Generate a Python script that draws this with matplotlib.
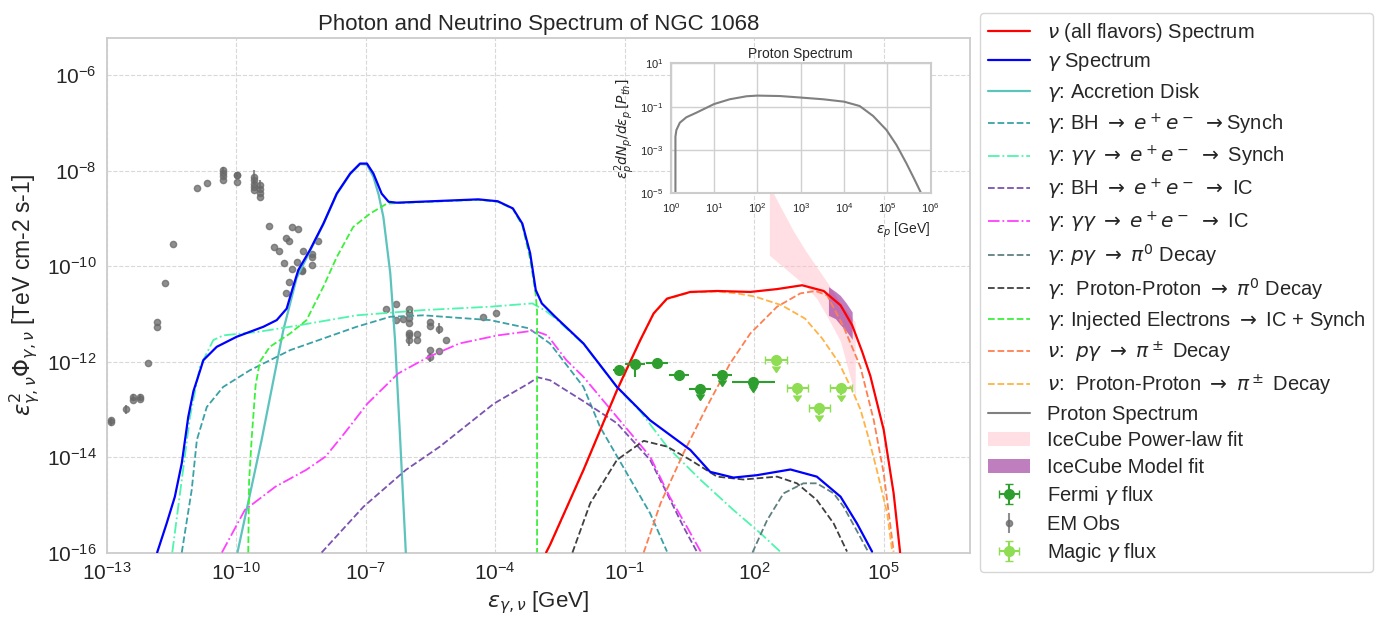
import matplotlib
matplotlib.use("Agg")
import matplotlib.pyplot as plt
import numpy as np
import seaborn as sns
from matplotlib.patches import Patch
from matplotlib.ticker import NullLocator

# Values below.
# Energies are log10(E / GeV), fluxes log10(E^2 Phi / TeV cm-2 s-1).

nu_total_loge = [-2.82, -2.73, -1.955, -1.18, -0.64, -0.33, -0.02, 0.52, 1.14, 1.91,
                 2.53, 3.11, 3.61, 4.0, 4.27, 4.50, 4.69, 5.0, 5.23, 5.38]
nu_total_logf = [-16.0, -15.84, -14.27, -12.60, -11.55, -10.99, -10.68, -10.54, -10.52, -10.54,
                 -10.48, -10.40, -10.52, -10.82, -11.24, -11.79, -12.30, -13.43, -14.76, -16.0]

gamma_total_loge = [-11.83, -11.61, -11.42, -11.26, -11.11, -10.99, -10.84, -10.76, -10.45, -9.99,
                    -9.37, -9.06, -8.83, -8.68, -8.56, -8.29, -7.98, -7.67, -7.36, -7.13,
                    -6.97, -6.82, -6.63, -6.47, -6.28, -5.20, -4.39, -3.94, -3.59, -3.37,
                    -3.19, -3.06, -2.92, -2.61, -1.955, -1.18, -0.41, 0.52, 0.98, 1.52,
                    2.06, 2.84, 3.45, 4.0, 4.38, 4.73]
gamma_total_logf = [-16.0, -15.39, -14.83, -14.13, -13.16, -12.62, -12.20, -11.97, -11.69, -11.48,
                    -11.27, -11.13, -10.89, -10.43, -10.08, -9.66, -9.11, -8.48, -8.06, -7.85,
                    -7.85, -8.06, -8.48, -8.65, -8.67, -8.63, -8.60, -8.64, -8.79, -9.11,
                    -9.73, -10.50, -10.78, -11.06, -11.62, -12.53, -13.23, -13.85, -14.31, -14.43,
                    -14.38, -14.26, -14.41, -14.83, -15.39, -15.98]

disk_loge = [-9.97, -9.41, -8.91, -8.60, -8.30, -7.98, -7.67, -7.36, -7.13, -6.97,
             -6.82, -6.70, -6.59, -6.43, -6.32, -6.20, -6.07]
disk_logf = [-16.0, -13.64, -11.35, -10.25, -9.70, -9.12, -8.49, -8.07, -7.86, -7.87,
             -8.13, -8.50, -8.97, -10.15, -11.55, -13.64, -16.0]

bh_synch_loge = [-11.26, -11.03, -10.91, -10.68, -10.30, -9.68, -8.75, -7.21, -6.43, -5.66,
                 -4.12, -3.23, -2.73, -1.955, -1.57, -0.95, -0.41, -0.02]
bh_synch_logf = [-16.0, -14.69, -13.64, -12.95, -12.53, -12.18, -11.76, -11.27, -11.06, -11.03,
                 -11.13, -11.30, -11.62, -12.53, -13.37, -14.34, -15.18, -15.98]

gg_synch_loge = [-11.48, -11.07, -10.84, -10.53, -10.30, -9.52, -8.75, -7.21, -5.66, -4.12,
                 -3.14, -2.84, -2.61, -1.955, -1.18, -0.64, -0.02, 0.76, 1.52, 2.15, 2.60]
gg_synch_logf = [-16.0, -13.16, -12.11, -11.55, -11.45, -11.38, -11.27, -11.03, -10.92, -10.85,
                 -10.78, -10.93, -11.09, -11.63, -12.54, -13.04, -13.78, -14.48, -15.11, -15.60, -15.98]

bh_ic_loge = [-8.02, -7.05, -6.07, -5.28, -4.03, -3.23, -3.01, -2.73, -1.955, -1.18,
              -0.41, -0.02, 0.36, 0.67]
bh_ic_logf = [-16.0, -15.04, -14.27, -13.78, -12.88, -12.46, -12.33, -12.39, -12.83, -13.29,
              -14.06, -14.76, -15.46, -15.98]

gg_ic_loge = [-10.33, -9.80, -9.09, -8.38, -7.93, -7.49, -6.96, -6.25, -5.54, -4.83,
              -3.94, -3.10, -2.79, -2.35, -1.955, -1.18, -0.41, 0.04, 0.44, 0.76]
gg_ic_logf = [-16.0, -15.11, -14.62, -14.27, -13.99, -13.50, -12.88, -12.25, -11.90, -11.62,
              -11.45, -11.35, -11.45, -11.97, -12.32, -13.16, -13.99, -14.83, -15.46, -15.98]

pg_pi0_loge = [1.96, 2.30, 2.68, 3.14, 3.45, 3.84, 4.07, 4.35, 4.65]
pg_pi0_logf = [-16.0, -15.32, -14.76, -14.55, -14.55, -14.76, -15.04, -15.50, -16.0]

pp_pi0_loge = [-2.21, -1.80, -1.18, -0.56, -0.02, 0.52, 1.14, 1.75, 2.53, 2.99,
               3.45, 3.84, 4.15]
pp_pi0_logf = [-16.0, -14.97, -14.06, -13.66, -13.78, -14.06, -14.41, -14.47, -14.41, -14.55,
               -14.90, -15.39, -15.98]

inj_e_loge = [-9.72, -9.70, -9.64, -9.55, -9.45, -9.22, -8.75, -8.37, -7.98, -7.67,
              -7.29, -6.90, -6.51, -6.30, -5.20, -4.39, -3.94, -3.59, -3.37, -3.19,
              -3.06, -3.03, -3.03]
inj_e_logf = [-16.0, -14.5, -13.6, -12.5, -12.0, -11.69, -11.41, -11.13, -10.43, -9.81,
              -9.18, -8.90, -8.69, -8.68, -8.64, -8.61, -8.65, -8.80, -9.15, -9.85,
              -10.60, -10.95, -16.0]

nu_pg_loge = [-0.56, -0.17, 0.36, 0.90, 1.44, 1.91, 2.53, 3.07, 3.42, 3.69,
              4.07, 4.46, 4.77, 5.0, 5.23]
nu_pg_logf = [-16.0, -14.97, -13.92, -12.95, -12.04, -11.41, -10.85, -10.57, -10.52, -10.61,
              -11.27, -12.11, -13.23, -14.34, -15.98]

nu_pp_loge = [-2.82, -2.73, -1.955, -1.18, -0.64, -0.33, -0.02, 0.52, 1.14, 1.60,
              2.03, 2.64, 3.18, 3.57, 3.96, 4.27, 4.46, 4.65, 4.84, 5.08, 5.20]
nu_pp_logf = [-16.0, -15.85, -14.28, -12.61, -11.56, -11.00, -10.69, -10.55, -10.53, -10.57,
              -10.64, -10.82, -11.10, -11.51, -12.02, -12.60, -13.00, -13.60, -14.27, -15.18, -16.0]

# IceCube bands: energy grid, upper and lower edges
ic_pl_loge = [2.35, 2.60, 2.90, 3.20, 3.45, 3.70, 4.00, 4.34]
ic_pl_upper = [-8.31, -8.74, -9.25, -9.69, -10.02, -10.35, -10.78, -11.17]
ic_pl_lower = [-9.77, -9.96, -10.19, -10.42, -10.68, -11.07, -11.58, -12.72]

ic_model_loge = [3.72, 3.88, 3.99, 4.13, 4.27]
ic_model_upper = [-10.43, -10.53, -10.61, -10.77, -10.96]
ic_model_lower = [-11.03, -11.10, -11.22, -11.36, -11.53]

# Fermi points (x half widths and y errors in dex)
fermi_loge = [-1.14, -0.76, -0.25, 0.25, 0.75, 1.25, 1.98]
fermi_logf = [-12.18, -12.05, -12.02, -12.29, -12.58, -12.29, -12.42]
fermi_xerr = [0.12, 0.23, 0.25, 0.23, 0.25, 0.23, 0.50]
fermi_yerr_lo = [0.07, 0.28, 0.05, 0.05, 0.10, 0.10, 0.10]
fermi_yerr_hi = [0.07, 0.08, 0.05, 0.05, 0.0, 0.0, 0.0]
fermi_uplim = [False, False, False, False, True, True, True]

magic_loge = [2.51, 3.00, 3.51, 4.01]
magic_logf = [-11.97, -12.56, -12.98, -12.56]
magic_xerr = [0.25, 0.25, 0.25, 0.25]
magic_yerr = [0.13, 0.13, 0.13, 0.13]

em_loge = [-12.90, -12.90, -12.55, -12.40, -12.40, -12.23, -12.23, -12.05, -11.84, -11.84,
           -11.65, -11.46, -10.91, -10.68, -10.30, -10.30, -10.30, -10.30, -9.99, -9.99,
           -9.99, -9.58, -9.58, -9.58, -9.58, -9.58, -9.45, -9.45, -9.45, -9.45,
           -9.24, -8.70, -8.57, -8.85, -8.77, -8.10, -9.13, -9.00, -8.46, -8.25,
           -8.25, -8.89, -8.58, -8.24, -8.70, -8.47, -8.47, -8.78, -8.84,
           -6.53, -6.30, -6.30, -6.13, -5.99, -5.99, -5.99, -5.99, -5.99, -5.99,
           -5.99, -5.82, -5.82, -5.52, -5.52, -5.52, -5.52, -5.31, -5.31, -5.14,
           -4.29, -3.99]
em_logf = [-13.27, -13.22, -13.00, -12.75, -12.81, -12.74, -12.79, -12.03, -11.17, -11.27,
           -10.36, -9.54, -8.36, -8.25, -7.99, -8.05, -8.11, -8.20, -8.08, -8.10,
           -8.23, -8.13, -8.20, -8.28, -8.35, -8.41, -8.30, -8.38, -8.46, -8.55,
           -9.16, -9.18, -9.23, -9.40, -9.47, -9.48, -9.60, -9.68, -9.69, -9.75,
           -9.80, -9.94, -9.91, -9.98, -10.06, -10.07, -10.10, -10.34, -10.57,
           -10.90, -10.79, -11.13, -11.11, -10.89, -10.99, -11.08, -11.19, -11.40, -11.45,
           -11.55, -11.42, -11.55, -11.17, -11.25, -11.76, -11.91, -11.31, -11.78, -11.55,
           -11.06, -10.99]
em_err = [0.08, 0.0, 0.10, 0.08, 0.0, 0.06, 0.0, 0.0, 0.0, 0.0,
          0.0, 0.0, 0.0, 0.0, 0.06, 0.0, 0.0, 0.0, 0.05, 0.0,
          0.0, 0.15, 0.0, 0.0, 0.0, 0.0, 0.10, 0.0, 0.0, 0.0,
          0.0, 0.0, 0.0, 0.0, 0.0, 0.0, 0.0, 0.0, 0.0, 0.0,
          0.0, 0.0, 0.0, 0.0, 0.0, 0.0, 0.0, 0.0, 0.0,
          0.0, 0.0, 0.0, 0.0, 0.0, 0.0, 0.0, 0.0, 0.0, 0.0,
          0.12, 0.0, 0.0, 0.0, 0.0, 0.0, 0.10, 0.12, 0.0, 0.0,
          0.0, 0.0]

proton_loge = [0.108, 0.108, 0.13, 0.21, 0.36, 0.59, 1.0, 1.36, 1.75, 2.0,
               2.52, 3.0, 3.52, 4.0, 4.36, 4.67, 4.98, 5.21, 5.44, 5.63, 5.78]
proton_logf = [-5.0, -2.38, -2.08, -1.74, -1.49, -1.28, -0.88, -0.66, -0.52, -0.49,
               -0.51, -0.58, -0.66, -0.77, -0.97, -1.43, -2.08, -2.77, -3.62, -4.38, -5.0]


def pw(a):
    return 10.0 ** np.asarray(a, dtype=float)


def log_err(logf, lo, hi):
    f = pw(logf)
    return np.vstack([f - f * pw(-np.asarray(lo)), f * pw(hi) - f])


def log_xerr(loge, half):
    e = pw(loge)
    return np.vstack([e - e * pw(-np.asarray(half)), e * pw(half) - e])


sns.set_style("whitegrid")
plt.rcParams["font.family"] = ["Liberation Sans", "DejaVu Sans"]
plt.rcParams["mathtext.fontset"] = "dejavusans"

fig = plt.figure(figsize=(13.85, 6.19), dpi=100)
ax = fig.add_axes([0.077, 0.1074, 0.6234, 0.831])

lw_solid = 1.6
lw_dash = 1.3

h_nu, = ax.plot(pw(nu_total_loge), pw(nu_total_logf), color="red", lw=lw_solid, zorder=6)
h_gam, = ax.plot(pw(gamma_total_loge), pw(gamma_total_logf), color="blue", lw=lw_solid, zorder=6)
h_disk, = ax.plot(pw(disk_loge), pw(disk_logf), color="#5CC3BD", lw=lw_solid, zorder=5)
h_bhs, = ax.plot(pw(bh_synch_loge), pw(bh_synch_logf), color="#3AA1A6", ls="--", lw=lw_dash, zorder=5)
h_ggs, = ax.plot(pw(gg_synch_loge), pw(gg_synch_logf), color="#4DF5AE", ls="-.", lw=lw_dash, zorder=5)
h_bhic, = ax.plot(pw(bh_ic_loge), pw(bh_ic_logf), color="#7B52B0", ls="--", lw=lw_dash, zorder=5)
h_ggic, = ax.plot(pw(gg_ic_loge), pw(gg_ic_logf), color="#FF40FF", ls="-.", lw=lw_dash, zorder=5)
h_pgpi0, = ax.plot(pw(pg_pi0_loge), pw(pg_pi0_logf), color="#5F8080", ls="--", lw=lw_dash, zorder=5)
h_pppi0, = ax.plot(pw(pp_pi0_loge), pw(pp_pi0_logf), color="#404040", ls="--", lw=lw_dash, zorder=5)
h_inj, = ax.plot(pw(inj_e_loge), pw(inj_e_logf), color="#3CF03C", ls="--", lw=lw_dash, zorder=5)
h_nupg, = ax.plot(pw(nu_pg_loge), pw(nu_pg_logf), color="#FF7F50", ls="--", lw=lw_dash, zorder=5)
h_nupp, = ax.plot(pw(nu_pp_loge), pw(nu_pp_logf), color="#FFB347", ls="--", lw=lw_dash, zorder=5)

ax.fill_between(pw(ic_pl_loge), pw(ic_pl_lower), pw(ic_pl_upper), color="pink", alpha=0.5,
                lw=0, zorder=2)
ax.fill_between(pw(ic_model_loge), pw(ic_model_lower), pw(ic_model_upper), color="purple",
                alpha=0.5, lw=0, zorder=3)
h_pl = Patch(facecolor="pink", alpha=0.5, edgecolor="none")
h_model = Patch(facecolor="purple", alpha=0.5, edgecolor="none")

h_fermi = ax.errorbar(pw(fermi_loge), pw(fermi_logf),
                      xerr=log_xerr(fermi_loge, fermi_xerr),
                      yerr=log_err(fermi_logf, fermi_yerr_lo, fermi_yerr_hi),
                      uplims=fermi_uplim, fmt="o", color="#2E9E2E", ms=7, elinewidth=1.5,
                      capsize=0, zorder=7)
h_em = ax.errorbar(pw(em_loge), pw(em_logf), yerr=log_err(em_logf, em_err, em_err),
                   fmt="o", color="dimgray", alpha=0.75, ms=4.5, elinewidth=1.5,
                   capsize=0, zorder=4)
h_magic = ax.errorbar(pw(magic_loge), pw(magic_logf),
                      xerr=log_xerr(magic_loge, magic_xerr),
                      yerr=log_err(magic_logf, magic_yerr, [0.0] * len(magic_yerr)),
                      uplims=True, fmt="o", color="#8FDD52", ms=7, elinewidth=1.5,
                      capsize=3, zorder=7)

ax.set_xscale("log")
ax.set_yscale("log")
ax.set_xlim(1e-13, 1e7)
ax.set_ylim(1e-16, 6e-6)
ax.set_xticks([10.0 ** k for k in range(-13, 7, 3)])
ax.set_yticks([10.0 ** k for k in range(-16, -5, 2)])
ax.xaxis.set_minor_locator(NullLocator())
ax.yaxis.set_minor_locator(NullLocator())
ax.tick_params(labelsize=15)
ax.grid(True, linestyle="--", linewidth=0.8, color="#d8d8d8")
ax.set_axisbelow(True)
ax.set_xlabel(r"$\epsilon_{\gamma,\nu}$ [GeV]", fontsize=16)
ax.set_ylabel(r"$\epsilon^2_{\gamma,\nu}\Phi_{\gamma,\nu}$ [TeV cm-2 s-1]", fontsize=16.5)
ax.set_title("Photon and Neutrino Spectrum of NGC 1068", fontsize=16)
for sp in ax.spines.values():
    sp.set_color("#cccccc")
    sp.set_linewidth(1.3)

# inset with the proton spectrum
axin = fig.add_axes([0.4843, 0.6877, 0.1877, 0.2100])
axin.set_facecolor("white")
h_prot, = axin.plot(pw(proton_loge), pw(proton_logf), color="gray", lw=1.5)
axin.set_xscale("log")
axin.set_yscale("log")
axin.set_xlim(1, 1e6)
axin.set_ylim(1e-5, 1e1)
axin.set_xticks([10.0 ** k for k in range(0, 7)])
axin.set_yticks([1e-5, 1e-3, 1e-1, 1e1])
axin.xaxis.set_minor_locator(NullLocator())
axin.yaxis.set_minor_locator(NullLocator())
axin.tick_params(labelsize=8, pad=2)
axin.grid(True, linestyle="-", linewidth=1.0, color="#d0d0d0")
axin.set_title("Proton Spectrum", fontsize=10, pad=4)
axin.set_xlabel(r"$\epsilon_p$ [GeV]", fontsize=10, loc="right")
axin.set_ylabel(r"$\epsilon_p^2 dN_p/d\epsilon_p\,[P_{th}]$", fontsize=10, labelpad=2)
for sp in axin.spines.values():
    sp.set_color("#cccccc")
    sp.set_linewidth(1.5)

handles = [h_nu, h_gam, h_disk, h_bhs, h_ggs, h_bhic, h_ggic, h_pgpi0, h_pppi0, h_inj,
           h_nupg, h_nupp, h_prot, h_pl, h_model, h_fermi, h_em, h_magic]
labels = [
    r"$\nu$ (all flavors) Spectrum",
    r"$\gamma$ Spectrum",
    r"$\gamma$: Accretion Disk",
    r"$\gamma$: BH $\rightarrow$ $e^+e^-$ $\rightarrow$Synch",
    r"$\gamma$: $\gamma\gamma$ $\rightarrow$ $e^+e^-$ $\rightarrow$ Synch",
    r"$\gamma$: BH $\rightarrow$ $e^+e^-$ $\rightarrow$ IC",
    r"$\gamma$: $\gamma\gamma$ $\rightarrow$ $e^+e^-$ $\rightarrow$ IC",
    r"$\gamma$: $p\gamma$ $\rightarrow$ $\pi^0$ Decay",
    r"$\gamma$:  Proton-Proton $\rightarrow$ $\pi^0$ Decay",
    r"$\gamma$: Injected Electrons $\rightarrow$ IC + Synch",
    r"$\nu$:  $p\gamma$ $\rightarrow$ $\pi^\pm$ Decay",
    r"$\nu$:  Proton-Proton $\rightarrow$ $\pi^\pm$ Decay",
    "Proton Spectrum",
    "IceCube Power-law fit",
    "IceCube Model fit",
    r"Fermi $\gamma$ flux",
    "EM Obs",
    r"Magic $\gamma$ flux",
]
ax.legend(handles, labels, loc="upper left", bbox_to_anchor=(1.0116, 1.049), fontsize=14.5,
          handlelength=2.1, labelspacing=0.37, frameon=True, borderaxespad=0.0)

fig.savefig("out.png", dpi=100)
